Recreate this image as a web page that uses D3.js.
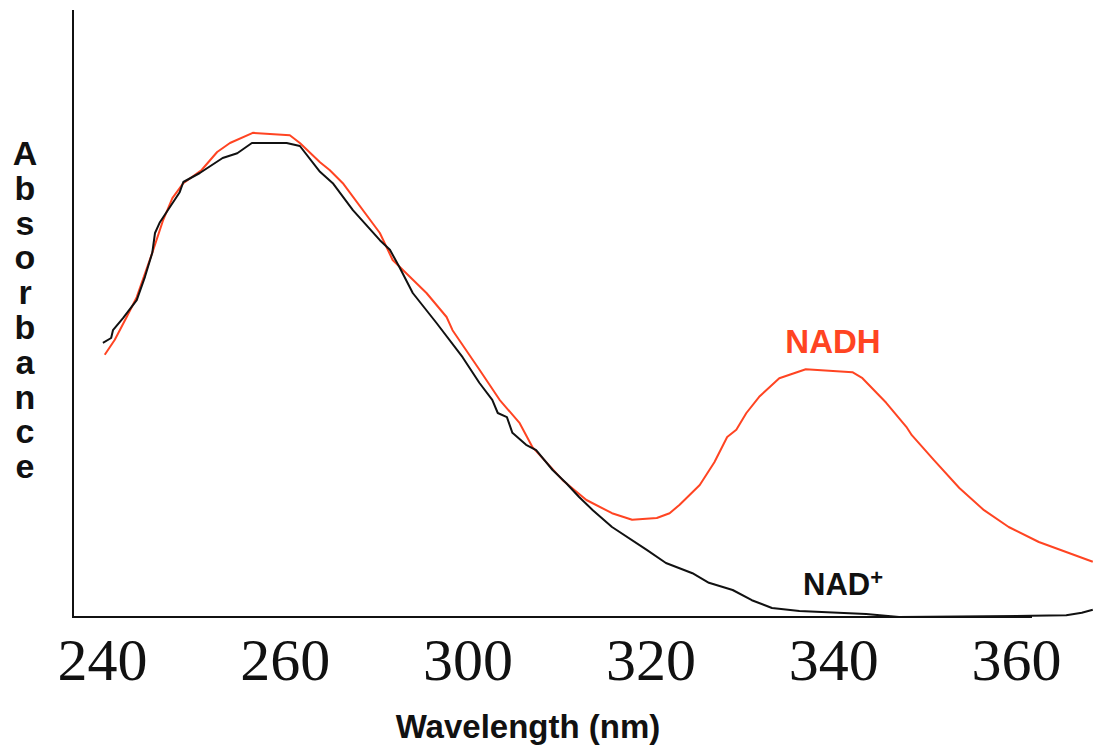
<!DOCTYPE html>
<html>
<head>
<meta charset="utf-8">
<script src="https://cdn.jsdelivr.net/npm/d3@7"></script>
<style>
  html, body { margin: 0; padding: 0; background: #fff; }
  svg { display: block; }
</style>
</head>
<body>
<svg id="chart" width="1094" height="747"></svg>
<script>
// tick labels on the wavelength axis (evenly spaced in the figure, 280 is not shown)
const tickValues = [240, 260, 300, 320, 340, 360]

// NAD+ spectrum, wavelength (nm) / absorbance (arbitrary units)
const nadWl = [240.1, 241.0, 241.2, 242.3, 243.8, 244.7, 245.5, 245.8, 246.3, 247.2, 248.5, 248.9, 250.7, 253.2, 254.8, 256.4,
  260.4, 263.3, 267.7, 270.5, 274.9, 280.8, 283.0, 285.1, 288.0, 293.2, 298.9, 301.3, 302.7, 303.3, 304.3, 304.9, 306.4,
  307.5, 309.3, 310.8, 312.2, 313.7, 315.8, 319.6, 321.7, 324.6, 326.4, 329.0, 331.1, 333.3, 336.3, 343.6, 347.2, 361.7,
  365.5, 367.2, 368.4]
const nadAbs = [0.457, 0.465, 0.478, 0.498, 0.528, 0.567, 0.607, 0.640, 0.657, 0.678, 0.708, 0.725, 0.740, 0.765, 0.773, 0.790,
  0.790, 0.785, 0.742, 0.723, 0.678, 0.628, 0.612, 0.583, 0.540, 0.490, 0.433, 0.390, 0.362, 0.340, 0.333, 0.307, 0.287,
  0.278, 0.245, 0.223, 0.200, 0.178, 0.150, 0.112, 0.090, 0.073, 0.057, 0.045, 0.028, 0.015, 0.010, 0.005, 0.000, 0.002,
  0.003, 0.007, 0.012]

// NADH spectrum
const nadhWl = [240.3, 241.4, 242.7, 243.8, 245.5, 246.7, 247.7, 248.9, 250.9, 252.6, 254.0, 256.5, 261.1, 263.3, 267.7, 269.8,
  272.7, 280.8, 283.6, 291.0, 295.4, 296.7, 301.3, 303.5, 305.7, 307.1, 310.4, 313.0, 315.8, 318.0, 320.7, 322.1, 323.2,
  325.4, 327.0, 328.4, 329.4, 330.5, 331.9, 334.1, 337.0, 342.1, 343.2, 345.8, 348.0, 348.6, 351.0, 353.8, 356.5, 359.2,
  362.5, 368.4]
const nadhAbs = [0.437, 0.462, 0.500, 0.533, 0.607, 0.662, 0.698, 0.723, 0.745, 0.775, 0.790, 0.807, 0.803, 0.790, 0.758, 0.745,
  0.723, 0.640, 0.595, 0.540, 0.500, 0.478, 0.412, 0.362, 0.323, 0.283, 0.228, 0.195, 0.173, 0.162, 0.165, 0.173, 0.187,
  0.220, 0.258, 0.300, 0.312, 0.340, 0.367, 0.398, 0.413, 0.408, 0.398, 0.357, 0.317, 0.303, 0.262, 0.215, 0.178, 0.150,
  0.125, 0.092]

const yLabel = 'Absorbance'
const xLabel = 'Wavelength (nm)'

const svg = d3.select('#chart')

const frame = {left: 73, right: 1032, top: 10, bottom: 617}

// labels are spaced evenly, so the scale is piecewise linear between them
const tickPos = d3.scalePoint().domain(tickValues).range([102, 1016])
const x = d3.scaleLinear().domain(tickValues).range(tickValues.map(tickPos))
const y = d3.scaleLinear().domain([0, 1]).range([frame.bottom, frame.bottom - 600])

// axis frame
svg.append('line')
    .attr('x1', frame.left).attr('x2', frame.left)
    .attr('y1', frame.top).attr('y2', frame.bottom)
    .attr('stroke', '#111').attr('stroke-width', 2)
svg.append('line')
    .attr('x1', frame.left - 1).attr('x2', frame.right)
    .attr('y1', frame.bottom).attr('y2', frame.bottom)
    .attr('stroke', '#111').attr('stroke-width', 2)

const xAxis = d3.axisBottom(x)
    .tickValues(tickValues)
    .tickSize(0)
    .tickFormat(d3.format('d'))

const xAxisGroup = svg.append('g')
    .attr('transform', `translate(0,${frame.bottom})`)
    .call(xAxis)
xAxisGroup.select('.domain').remove()
xAxisGroup.selectAll('text')
    .attr('y', 63)
    .attr('dy', 0)
    .attr('fill', '#111')
    .style('font-family', '"Liberation Serif", "Times New Roman", serif')
    .style('font-size', '60px')

const line = d3.line()
    .x(d => x(d[0]))
    .y(d => y(d[1]))

svg.append('path')
    .datum(d3.zip(nadhWl, nadhAbs))
    .attr('fill', 'none')
    .attr('stroke', '#ff4422')
    .attr('stroke-width', 2)
    .attr('stroke-linejoin', 'round')
    .attr('d', line)

svg.append('path')
    .datum(d3.zip(nadWl, nadAbs))
    .attr('fill', 'none')
    .attr('stroke', '#111')
    .attr('stroke-width', 2)
    .attr('stroke-linejoin', 'round')
    .attr('d', line)

const sans = '"Liberation Sans", Arial, Helvetica, sans-serif'

// series labels
svg.append('text')
    .attr('x', 833).attr('y', 353)
    .attr('text-anchor', 'middle')
    .attr('fill', '#ff4422')
    .style('font-family', sans).style('font-weight', 'bold').style('font-size', '33px')
    .text('NADH')

const nadLabel = svg.append('text')
    .attr('x', 803).attr('y', 595)
    .attr('fill', '#111')
    .style('font-family', sans).style('font-weight', 'bold').style('font-size', '31px')
nadLabel.append('tspan').text('NAD')
nadLabel.append('tspan')
    .attr('dy', -10)
    .style('font-size', '22px')
    .text('+')

// stacked y label
svg.append('text')
    .attr('text-anchor', 'middle')
    .attr('fill', '#111')
    .style('font-family', sans).style('font-weight', 'bold').style('font-size', '34px')
    .selectAll('tspan')
    .data(yLabel.split(''))
    .join('tspan')
        .attr('x', 25)
        .attr('y', (d, i) => 165 + i * 34.8)
        .text(d => d)

svg.append('text')
    .attr('x', 528).attr('y', 738)
    .attr('text-anchor', 'middle')
    .attr('fill', '#111')
    .style('font-family', sans).style('font-weight', 'bold').style('font-size', '33px')
    .text(xLabel)
</script>
</body>
</html>
